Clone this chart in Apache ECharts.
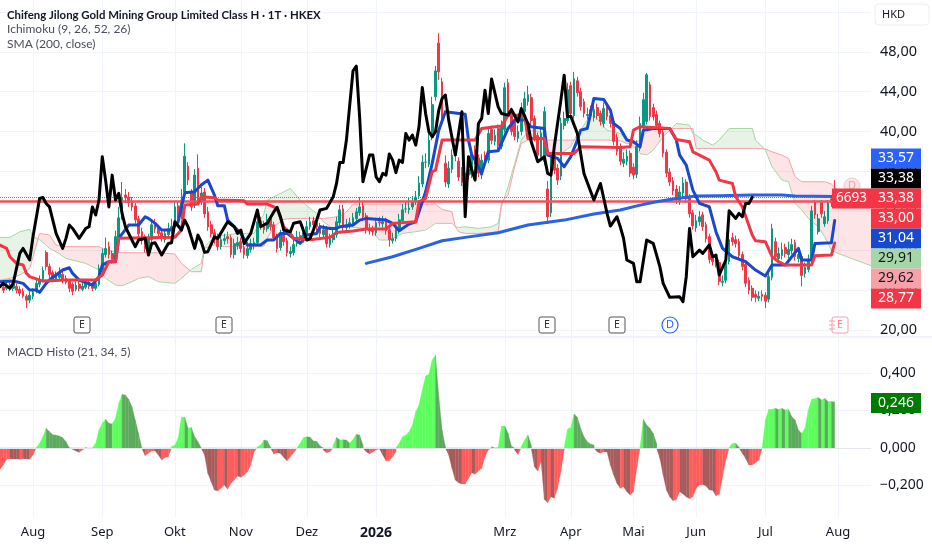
<!DOCTYPE html>
<html><head><meta charset="utf-8">
<style>html,body{margin:0;padding:0;background:#fff}#c{width:932px;height:550px}</style>
<script src="https://cdn.jsdelivr.net/npm/echarts@6/dist/echarts.min.js"></script>
</head><body><div id="c"></div>
<script>
const titleText='Chifeng Jilong Gold Mining Group Limited Class H · 1T · HKEX';
const monthBars=[10,31,53,73,93,114,153,173,192,211,232,254];
const monthNames=['Aug','Sep','Okt','Nov','Dez','2026','Mrz','Apr','Mai','Jun','Jul','Aug'];
const barCount=265;
const opens=[24.6,24.3,24.2,24.5,24.2,24.4,24.1,23.9,23.4,23.0,
23.4,23.9,24.6,25.0,27.8,26.4,25.8,25.1,25.3,25.6,
25.2,24.9,24.6,24.1,24.6,24.1,24.3,24.8,24.6,24.2,
24.6,26.0,27.6,28.4,27.7,27.0,29.3,31.4,33.6,33.4,
32.9,32.5,31.2,29.9,29.2,28.0,29.1,30.8,30.3,29.8,
29.1,29.6,30.1,30.4,32.5,31.5,33.9,36.5,33.8,32.6,
36.3,33.0,33.9,31.9,30.6,29.8,29.3,28.4,29.0,29.4,
29.3,27.6,28.5,28.9,28.3,27.5,28.1,28.6,28.8,31.0,
30.6,30.2,31.2,30.6,29.4,28.3,29.8,29.0,27.7,27.8,
28.7,29.5,29.1,29.7,30.4,31.0,30.8,30.5,29.6,30.2,
28.6,29.1,29.6,30.8,32.2,30.3,30.5,30.7,31.2,31.8,
32.5,31.5,30.2,30.1,29.8,30.9,30.7,31.0,30.1,29.0,
29.2,30.0,31.0,32.2,32.1,32.4,32.9,33.5,34.7,36.9,
36.7,39.4,43.5,48.9,45.0,36.8,34.7,36.2,37.7,37.0,
36.0,34.8,36.2,35.7,38.2,37.3,35.6,37.6,37.1,40.2,
39.0,40.3,38.5,40.2,44.9,42.1,41.0,39.3,40.0,42.0,
43.0,43.4,41.3,39.6,37.4,37.0,34.2,31.8,37.7,36.3,
35.5,40.6,41.1,44.6,41.6,45.1,44.0,43.0,41.6,42.2,
41.4,42.4,41.8,40.8,42.5,41.6,41.0,39.4,38.4,36.8,
37.0,37.8,36.4,35.7,38.3,40.5,41.0,44.7,42.4,41.7,
40.8,39.9,37.9,35.9,35.0,34.2,33.0,33.8,34.9,33.4,
31.8,30.3,30.9,31.6,30.6,29.4,27.3,27.1,26.8,24.8,
25.0,26.9,29.3,29.1,28.9,27.6,26.6,25.0,24.2,23.6,
23.2,23.6,23.5,23.1,25.3,28.9,27.2,27.5,28.3,27.6,
28.0,28.8,27.2,27.4,25.7,26.1,27.0,32.9,29.9,32.8,
30.7,31.0,33.2,33.8];
const closes=[24.3,24.0,24.5,24.2,24.6,24.0,23.7,23.4,23.0,23.5,
23.8,24.7,25.0,26.0,26.4,25.6,25.1,25.5,25.7,25.0,
24.8,24.2,23.9,24.5,24.2,24.4,24.7,24.4,24.2,24.7,
26.2,27.7,28.2,27.6,27.1,29.4,31.3,33.3,33.3,32.8,
32.4,31.1,29.7,29.0,28.2,29.2,30.6,30.2,29.7,29.2,
29.7,30.2,30.4,32.4,31.6,33.1,37.5,35.1,32.4,35.6,
33.1,33.8,31.7,30.4,29.7,29.1,28.4,29.1,29.2,29.2,
27.6,28.7,28.8,28.2,27.6,28.2,28.7,28.8,30.9,30.5,
30.1,31.1,30.4,29.3,28.2,29.6,28.9,27.8,27.9,28.6,
29.4,29.2,29.8,30.4,30.9,30.6,30.4,29.7,30.1,28.7,
29.2,29.7,30.9,32.1,30.4,30.6,30.8,31.3,31.9,32.4,
31.4,30.1,30.0,29.9,30.8,30.8,30.9,30.0,29.1,29.2,
30.1,31.1,32.1,32.2,32.3,32.9,33.4,34.8,36.9,36.9,
39.1,42.7,46.1,46.0,41.5,34.9,36.3,37.6,37.6,35.4,
34.9,35.8,35.6,37.7,37.1,35.8,37.1,36.9,39.8,39.1,
39.6,38.6,40.5,44.4,41.8,40.0,39.5,40.0,42.2,43.3,
43.7,41.1,39.4,37.6,39.8,42.0,31.4,37.5,36.1,35.1,
40.8,41.3,44.2,41.8,45.3,43.9,42.5,41.8,41.7,41.6,
42.2,41.6,41.0,42.3,41.5,40.8,39.0,38.0,37.0,37.2,
37.5,35.8,35.6,38.5,40.8,43.2,45.7,41.5,41.5,40.6,
39.8,37.8,35.8,34.9,34.0,33.1,33.9,34.8,33.2,31.7,
30.5,31.0,31.4,30.4,29.2,27.1,26.9,26.7,24.9,24.9,
27.0,29.1,28.9,28.7,27.5,26.4,24.7,24.0,23.3,23.3,
23.4,23.4,22.9,25.4,30.2,27.4,27.7,28.1,27.7,28.1,
28.6,27.4,27.6,25.5,26.3,27.1,32.0,31.6,31.2,31.7,
31.4,32.8,32.8,33.4];
const lows=[24.0,23.7,24.0,23.9,23.9,23.7,23.4,23.2,22.2,22.7,
23.1,23.7,24.3,24.8,26.0,25.2,24.8,24.9,25.1,24.7,
24.6,23.8,23.5,23.9,23.9,23.9,24.1,24.1,23.9,24.0,
24.4,25.8,27.3,27.2,26.7,26.8,29.0,31.1,32.8,32.4,
32.0,30.7,29.3,28.6,27.8,27.7,28.8,29.8,29.3,28.9,
28.8,29.3,29.7,30.1,31.2,31.2,33.5,34.6,32.0,32.3,
32.7,32.6,31.3,30.0,29.3,28.7,28.0,28.1,28.6,28.7,
27.3,27.2,28.1,27.8,27.2,27.2,27.8,28.1,28.5,30.1,
29.7,29.9,30.0,29.0,27.8,28.0,28.5,27.4,27.3,27.5,
28.4,28.8,28.8,29.4,30.1,30.2,30.0,29.3,29.3,28.3,
28.3,28.8,29.3,30.5,30.0,30.0,30.2,30.4,30.9,31.5,
31.0,29.7,29.6,29.5,29.5,30.4,30.3,29.6,28.4,28.7,
28.9,29.7,30.7,31.8,31.7,32.1,32.6,33.2,34.4,36.3,
36.4,39.1,43.1,45.2,41.0,34.4,34.3,35.8,37.0,35.0,
34.5,34.4,35.2,35.3,36.7,35.4,35.2,36.4,36.8,38.7,
38.6,38.2,38.2,39.9,41.4,39.6,39.1,38.9,39.6,41.7,
42.6,40.7,39.0,37.2,37.1,36.6,30.7,31.4,35.7,34.6,
35.1,40.2,40.8,41.4,41.3,43.5,42.1,41.4,41.2,41.2,
41.0,41.2,40.6,40.4,41.1,40.4,38.6,37.6,36.6,36.4,
36.6,35.4,35.2,35.3,38.0,40.2,40.7,41.1,41.1,40.2,
39.4,37.4,35.4,34.5,33.6,32.7,32.6,33.4,32.8,31.3,
30.1,29.9,30.5,30.0,28.8,26.7,26.5,26.3,24.5,24.4,
24.7,26.6,28.5,28.3,27.1,26.0,24.3,23.6,22.9,22.8,
22.9,22.9,22.2,22.8,25.0,27.0,26.8,27.1,27.3,27.2,
27.6,27.0,26.8,24.4,25.3,25.8,26.7,31.2,29.6,31.3,
30.4,30.7,32.4,33.1];
const highs=[25.0,24.6,24.9,24.8,25.0,24.7,24.4,24.2,23.6,23.9,
24.2,25.1,25.5,26.4,28.0,26.7,26.0,25.9,26.3,25.9,
25.5,25.1,24.8,24.9,24.9,24.8,25.0,25.1,24.8,25.2,
26.6,28.2,29.3,28.9,28.0,30.0,32.4,34.9,34.2,33.9,
33.4,32.8,31.5,30.3,29.6,29.7,31.1,31.2,30.6,30.1,
30.1,30.8,31.2,33.0,32.9,34.2,38.8,36.9,34.2,36.2,
37.7,34.4,34.3,32.4,31.0,30.2,29.7,29.8,29.7,29.9,
29.6,29.2,29.4,29.3,28.7,28.8,29.2,29.3,31.4,31.4,
31.0,31.7,31.6,30.9,29.7,30.1,30.2,29.3,28.4,29.1,
30.0,29.9,30.4,31.0,31.4,31.4,31.1,30.8,30.6,30.5,
29.7,30.2,31.4,32.6,32.6,31.2,31.3,31.8,32.3,33.4,
32.9,31.8,30.7,30.5,31.3,31.4,31.5,31.3,30.4,29.8,
30.6,31.7,32.7,32.9,33.3,33.5,34.0,35.5,37.6,37.8,
39.8,43.5,46.6,49.9,45.4,37.6,37.0,38.2,38.4,37.4,
36.4,36.4,36.6,38.3,38.6,37.7,37.7,38.0,40.4,40.6,
40.2,40.7,41.1,44.9,45.3,42.4,41.3,40.6,42.9,44.0,
44.6,43.8,41.6,39.9,40.3,42.5,35.0,37.9,38.2,36.7,
41.4,42.0,44.9,45.0,46.0,45.5,44.4,43.3,42.4,42.6,
42.8,42.8,42.1,42.9,42.9,42.0,41.3,39.8,38.8,37.9,
38.2,38.1,36.8,39.1,41.5,43.9,45.9,45.0,42.8,42.1,
41.1,40.2,38.2,36.3,35.4,34.6,34.5,35.4,35.2,33.7,
32.1,31.6,32.0,31.9,30.9,29.7,27.7,27.5,27.1,25.5,
27.6,29.7,29.8,29.5,29.2,27.9,26.9,25.3,24.5,24.0,
23.9,24.0,23.8,26.1,30.7,29.3,28.3,28.8,28.7,28.9,
29.2,29.1,28.2,27.7,26.8,27.6,32.5,33.1,31.7,33.1,
32.0,33.1,33.5,35.1];
const chikouBars=[0,1,3,4,6,7,9,10,12,13,14,15,16,17,19,20,21,22,24,26,27,28,29,30,31,32,33,34,35,36,37,38,40,41,42,44,45,46,47,49,51,52,53,55,56,57,59,60,61,62,63,65,66,69,71,72,73,74,76,78,79,81,83,84,85,86,88,89,91,93,94,95,97,99,101,102,103,104,105,106,107,108,109,110,112,113,114,115,116,117,118,119,120,121,122,123,124,125,126,127,128,129,130,131,132,133,134,135,136,138,139,140,141,142,143,144,145,146,147,148,149,151,152,154,155,157,158,160,161,163,165,166,167,168,170,171,172,173,175,177,180,182,184,185,187,188,189,190,192,193,194,196,198,200,201,203,206,207,208,209,210,212,213,215,216,217,218,220,221,223,224,225,226,227,228];
const chikouVals=[24.36,24.7,24.2,24.7,27.72,28.22,27.05,29.4,33.25,33.35,32.75,32.4,31.07,29.73,28.22,29.23,30.57,30.23,29.23,30.23,30.4,32.4,31.58,33.09,37.45,35.1,32.4,35.6,33.09,33.76,31.74,30.4,29.06,28.39,29.06,29.23,27.55,28.72,28.79,27.55,28.72,28.79,30.9,30.07,31.07,30.4,28.22,29.56,28.89,27.82,27.88,29.39,29.23,30.9,30.4,29.73,30.07,28.72,29.73,32.08,30.4,30.76,31.91,32.35,31.41,30.07,29.9,30.76,30.9,29.06,29.23,30.07,32.08,32.25,33.42,34.76,36.88,36.88,39.13,42.65,46.1,46.58,41.47,34.93,37.62,37.62,35.43,34.93,35.77,35.6,37.72,37.11,35.84,37.11,36.88,39.8,39.13,39.63,38.62,40.47,44.43,41.81,39.97,39.46,39.97,42.15,43.32,43.66,41.14,37.62,39.8,41.98,31.41,37.45,36.11,35.1,40.8,41.31,44.16,41.81,45.27,42.48,41.81,41.64,42.21,40.97,42.31,40.8,38.96,36.95,37.45,35.77,35.6,38.45,43.15,45.67,41.47,41.54,39.8,35.77,33.09,34.76,31.74,30.47,31.41,30.4,29.23,27.05,26.71,24.86,24.86,29.06,28.72,26.38,24.7,23.29,23.35,22.85,25.37,30.23,27.38,28.05,27.72,28.56,27.38,27.55,25.54,27.05,32.01,31.24,31.74,31.41,32.75,32.75,33.36];
const tenkanBars=[0,3,5,7,9,11,12,14,15,17,19,21,22,24,28,30,31,33,35,36,39,42,44,45,47,49,52,54,56,59,61,63,65,66,68,69,72,73,75,79,81,83,85,87,89,91,93,96,97,100,102,103,107,109,111,117,119,121,122,124,126,129,131,133,135,141,142,143,144,146,148,151,154,156,159,161,165,166,169,171,173,175,176,178,180,183,185,186,188,190,192,194,195,198,203,205,206,208,210,212,215,217,219,222,226,229,232,234,238,240,242,243,246,247,252,253];
const tenkanVals=[24.86,24.93,24.86,24.7,24.03,24.03,23.79,24.7,25.03,25.54,26.04,26.27,25.7,25.03,24.53,25.37,26.54,26.88,26.88,29.23,30.57,30.57,31.41,31.24,30.74,30.07,30.07,30.9,33.82,33.92,34.6,35.1,33.59,32.52,32.52,31.07,30.07,29.73,28.56,28.56,29.06,29.06,29.73,29.73,29.23,28.72,29.56,29.73,30.4,30.23,30.23,30.4,30.57,31.07,31.24,31.07,30.74,30.0,30.23,30.67,30.9,33.92,36.78,40.13,41.98,41.74,39.13,37.62,37.11,35.77,37.95,38.05,40.3,41.14,41.14,40.47,40.3,37.62,37.28,36.44,37.45,39.13,40.13,40.3,43.32,43.22,42.15,40.8,40.3,39.13,38.96,38.45,40.13,40.3,40.3,39.13,37.62,36.61,34.09,32.75,32.41,29.9,28.22,27.38,26.88,26.04,25.44,26.54,26.54,27.38,28.22,27.05,27.05,28.72,28.79,31.04];
const kijunBars=[0,2,3,5,7,8,9,13,20,29,31,33,35,36,53,55,56,60,61,65,66,74,75,81,84,86,88,89,94,100,102,107,111,117,119,126,127,129,131,132,134,144,146,152,154,159,160,165,166,174,176,188,191,192,194,203,205,209,210,212,215,217,218,222,223,225,228,229,232,234,236,238,246,247,252,253];
const kijunVals=[28.56,28.22,27.38,26.71,26.54,25.7,25.37,24.93,25.03,25.03,25.54,26.88,26.88,29.23,29.33,30.07,32.58,32.68,33.42,33.32,33.09,33.02,32.68,32.68,32.25,30.4,29.73,29.23,29.1,29.33,29.83,29.97,30.17,30.17,30.74,30.9,32.92,33.25,35.94,36.11,39.13,39.13,40.3,40.54,41.64,41.64,39.29,39.29,37.78,37.78,38.45,38.39,38.45,40.13,40.47,40.3,39.19,38.96,37.95,37.62,37.11,35.94,35.1,34.76,33.42,32.41,29.56,28.99,28.89,27.38,26.88,26.54,26.54,27.48,27.55,28.77];
const smaBars=[111,119,127,134,141,151,160,171,180,188,194,199,204,211,218,228,237,241,253];
const smaVals=[26.71,27.38,28.22,28.99,29.33,29.8,30.57,31.07,31.68,32.08,32.58,32.92,33.19,33.49,33.52,33.59,33.59,33.5,33.45];
const cloudBars=[0,3,6,9,10,12,15,17,20,26,30,32,35,37,40,42,45,48,53,55,58,61,62,65,68,72,77,80,81,83,86,88,91,94,96,98,101,104,106,107,112,115,118,122,126,129,132,134,137,138,139,141,145,149,151,152,154,156,158,160,162,165,166,170,173,175,176,178,180,184,188,190,192,194,196,198,201,203,205,209,210,211,213,216,218,221,228,229,232,234,237,239,241,243,245,248,250,252,254,258,264];
const spanA=[29.33,29.33,29.9,30.13,29.39,29.13,28.22,27.88,27.21,26.71,26.04,25.2,24.53,24.46,24.86,25.2,25.37,24.86,24.7,25.2,26.11,26.71,28.39,29.39,29.56,29.73,29.73,31.74,33.09,33.42,33.92,34.26,33.09,32.25,31.74,30.9,30.23,30.33,30.4,30.33,30.23,29.06,29.06,29.73,29.9,30.07,30.74,30.74,30.74,30.4,30.33,30.4,30.23,30.4,30.74,32.41,34.43,36.78,39.13,39.97,40.13,39.8,37.78,37.78,38.45,39.8,40.13,41.14,41.64,40.13,39.8,39.13,38.45,37.78,37.62,38.12,39.46,40.13,40.8,40.63,39.8,39.63,39.13,38.62,39.13,40.3,40.3,39.13,38.12,36.44,35.1,34.93,32.75,32.08,31.24,30.4,29.39,28.05,27.72,27.21,26.48];
const spanB=[25.03,25.2,25.54,26.21,27.38,29.73,29.56,28.56,28.39,28.39,28.39,28.05,27.88,27.78,27.78,27.78,27.78,27.78,27.65,26.71,25.87,25.87,28.22,28.56,28.39,28.39,28.39,28.46,29.23,30.4,31.14,31.24,31.24,31.24,31.24,31.24,31.34,31.58,32.25,32.68,32.68,32.68,32.68,32.68,32.68,32.68,32.68,32.15,31.91,30.4,29.9,29.73,29.73,29.83,29.9,32.92,33.59,36.44,38.79,39.13,39.13,39.13,39.13,39.13,39.13,39.13,39.13,39.13,39.13,39.13,39.06,38.79,38.79,39.13,39.97,40.3,40.3,40.3,40.3,40.3,40.3,38.29,38.29,38.29,38.29,38.29,38.29,38.29,38.22,37.95,37.62,37.28,35.43,34.93,34.93,34.93,34.93,34.7,34.1,33.4,33.09];
const macdVals=[-.114,-.09,-.06,-.057,-.058,-.059,-.06,-.057,-.058,-.06,-.037,.002,.025,.06,.105,.087,.071,.068,.064,.055,.034,.002,-.007,-.016,-.023,-.011,.004,-.005,-.002,.025,.096,.132,.153,.132,.128,.158,.238,.286,.283,.26,.22,.149,.078,-.002,-.041,-.028,-.016,-.015,-.037,-.064,-.05,-.046,.007,.016,.052,.164,.164,.105,.11,.06,.034,-.002,-.037,-.135,-.18,-.224,-.229,-.215,-.197,-.219,-.188,-.171,-.149,-.156,-.144,-.126,-.091,-.02,.007,.016,.043,.039,.004,-.032,-.025,-.028,-.05,-.068,-.046,-.025,-.002,.025,.057,.06,.057,.037,.036,.011,-.011,-.025,-.02,.016,.057,.043,.044,.043,.025,.046,.073,.069,.016,-.02,-.032,-.021,-.011,-.004,-.037,-.068,-.068,-.046,-.02,.025,.06,.068,.087,.123,.194,.229,.309,.384,.393,.469,.496,.274,.096,.007,-.037,-.108,-.171,-.185,-.192,-.192,-.162,-.132,-.14,-.123,-.108,-.046,-.011,.007,-.002,.004,.117,.117,.078,.011,-.011,-.034,.007,.043,.069,.016,-.1,-.123,-.073,-.274,-.292,-.26,-.268,-.215,-.126,-.011,.1,.11,.181,.164,.105,.06,.034,.021,.016,-.02,-.028,-.02,-.021,-.091,-.144,-.188,-.215,-.206,-.233,-.251,-.233,-.108,.005,.153,.123,.105,.078,.025,-.055,-.144,-.224,-.26,-.281,-.274,-.233,-.245,-.26,-.27,-.26,-.215,-.197,-.194,-.203,-.224,-.225,-.254,-.247,-.153,-.064,.001,.025,.025,.004,-.028,-.055,-.091,-.09,-.078,-.064,-.002,.149,.206,.206,.212,.206,.212,.203,.206,.167,.149,.096,.078,.105,.203,.26,.263,.27,.256,.265,.247,.248,.246];
const hLineVals=[33.00];
const dotLineVals=[33.38];
const tagTexts=['33,57','33,38','33,38','33,00','31,04','29,91','29,62','28,77'];
const tagFills=['#2962FF','#000000','#F23645','#F23645','#1848CC','#A5D6A7','#F7A1A8','#F23645'];
const tagInks=['#fff','#fff','#fff','#fff','#fff','#131722','#131722','#fff'];
const earningsBars=[82,224,547,617];

const FONT='"Noto Sans"',LABELFONT='Lato';
const GRID='#F0F3FA',INK='#131722',SUB='#4A4E5A';
const categories=Array.from({length:barCount},(_,i)=>{const k=monthBars.indexOf(i);return k<0?'':monthNames[k];});
const isMonth=(i)=>monthBars.indexOf(i)>=0;
const zip=(a,b)=>a.map((x,i)=>[x,b[i]]);
const candle=opens.map((o,i)=>[o,closes[i],lows[i],highs[i]]);
const plotW=871;

function cloudItem(p,api){
  const i=p.dataIndex; if(i>=cloudBars.length-1) return null;
  const x0=cloudBars[i],x1=cloudBars[i+1],a0=spanA[i],a1=spanA[i+1],b0=spanB[i],b1=spanB[i+1];
  const d0=a0-b0,d1=a1-b1;
  const polys=[];
  const add=(pts,up)=>polys.push({type:'polygon',shape:{points:pts.map(q=>api.coord(q))},style:{fill:up?'rgba(67,160,71,0.13)':'rgba(242,54,69,0.13)'}});
  if(d0*d1<0){
    const t=d0/(d0-d1),xm=x0+t*(x1-x0),ym=a0+t*(a1-a0);
    add([[x0,a0],[xm,ym],[x0,b0]],d0>0);
    add([[xm,ym],[x1,a1],[x1,b1]],d1>0);
  } else add([[x0,a0],[x1,a1],[x1,b1],[x0,b0]],(d0+d1)>0);
  return {type:'group',children:polys};
}
function macdItem(p,api){
  const i=p.dataIndex; if(i>=macdVals.length-1) return null;
  const v0=macdVals[i],v1=macdVals[i+1];
  const falling=v1<v0;
  const col=(v)=>v>=0?(falling?'#5CAB5C':'#5CFF5C'):(falling?'#A85C5C':'#FF5C5C');
  const polys=[];
  const add=(pts,c)=>polys.push({type:'polygon',shape:{points:pts.map(q=>api.coord(q))},style:{fill:c,stroke:c,lineWidth:0.3}});
  if(v0*v1<0){
    const xm=i+v0/(v0-v1);
    add([[i,0],[i,v0],[xm,0]],col(v0));
    add([[xm,0],[i+1,v1],[i+1,0]],col(v1));
  } else add([[i,0],[i,v0],[i+1,v1],[i+1,0]],col(v0+v1));
  return {type:'group',children:polys};
}
const txt=(x,y,t,o,z)=>({type:'text',x,y,z:z||50,style:Object.assign({text:t,font:'12px '+LABELFONT,fill:SUB,verticalAlign:'middle',align:'left'},o||{})});
const graphics=[];
graphics.push({type:'rect',shape:{x:0,y:336,width:932,height:2},style:{fill:'#F0F3FA'},z:5});
graphics.push(txt(7,15,titleText,{font:'bold 11.4px '+LABELFONT,fill:INK}));
graphics.push(txt(7,29,'Ichimoku (9, 26, 52, 26)'));
graphics.push(txt(7,44,'SMA (200, close)'));
graphics.push(txt(7,352,'MACD Histo (21, 34, 5)'));
graphics.push({type:'rect',z:50,shape:{x:875,y:4,width:54,height:21,r:4},style:{fill:'#fff',stroke:'#ECEEF2',lineWidth:1}});
graphics.push(txt(882,15,'HKD',{font:'11px '+FONT,fill:INK},51));
tagTexts.forEach((t,i)=>{
  const y=148.5+i*20;
  graphics.push({type:'rect',z:40,shape:{x:871,y,width:50,height:20},style:{fill:tagFills[i]}});
  graphics.push(txt(896,y+10,t,{font:'14px '+FONT,fill:tagInks[i],align:'center'},41));
});
graphics.push({type:'circle',z:30,shape:{cx:852,cy:186,r:8},style:{fill:'#FCE4E6',stroke:'#F9C8CC',lineWidth:1}});
graphics.push(txt(852,186,'D',{font:'11px '+FONT,fill:'#F2A0A8',align:'center'},31));
graphics.push({type:'rect',z:42,shape:{x:832,y:188.5,width:39,height:20},style:{fill:'#F23645'}});
graphics.push(txt(851.5,198.5,'6693',{font:'13.5px '+FONT,fill:'#fff',align:'center'},43));
graphics.push({type:'rect',z:42,shape:{x:871,y:393,width:50,height:20},style:{fill:'#007A00'}});
graphics.push(txt(896,403,'0,246',{font:'14px '+FONT,fill:'#fff',align:'center'},43));
earningsBars.forEach(x=>{
  graphics.push({type:'rect',z:20,shape:{x:x-8,y:317,width:16,height:16,r:2},style:{fill:'#fff',stroke:'#555',lineWidth:1}});
  graphics.push(txt(x,325,'E',{font:'10.5px '+FONT,fill:'#333',align:'center'},21));
});
graphics.push({type:'circle',z:20,shape:{cx:670,cy:325,r:8},style:{fill:'#fff',stroke:'#2962FF',lineWidth:1.2}});
graphics.push(txt(670,325,'D',{font:'11px '+FONT,fill:'#2962FF',align:'center'},21));
graphics.push({type:'rect',z:20,shape:{x:832,y:317,width:16,height:16,r:2},style:{fill:'#fff',stroke:'#F4A0A8',lineWidth:1}});
graphics.push(txt(840,325,'E',{font:'10.5px '+FONT,fill:'#F08A94',align:'center'},21));
[321,325,329].forEach(y=>graphics.push({type:'line',z:21,shape:{x1:829,y1:y,x2:835,y2:y},style:{stroke:'#F4A0A8',lineWidth:1}}));

const lineS=(name,bars,vals,color,width,z)=>({name,type:'line',xAxisIndex:0,yAxisIndex:0,data:zip(bars,vals),showSymbol:false,symbol:'none',silent:true,z,animation:false,lineStyle:{color,width,join:'round',cap:'round'}});
const option={
  animation:false,backgroundColor:'#fff',
  textStyle:{fontFamily:FONT},
  graphic:graphics,
  grid:[
    {left:0,width:plotW,top:12.3,height:317.7},
    {left:0,width:plotW,top:335.5,height:187.5},
    {left:0,width:plotW,top:0,height:517}
  ],
  xAxis:[0,1].map(g=>({gridIndex:g,type:'category',boundaryGap:false,data:categories,show:false})).concat([{
    gridIndex:2,type:'category',boundaryGap:false,data:categories,
    axisLine:{show:false},axisTick:{show:false},
    splitLine:{show:true,interval:(i)=>isMonth(i),lineStyle:{color:GRID,width:1}},
    axisLabel:{interval:(i)=>isMonth(i),margin:9,fontSize:13,color:INK,fontFamily:FONT,hideOverlap:false,
      formatter:(v)=>v==='2026'?'{b|2026}':v,rich:{b:{fontWeight:'bold',fontSize:14,color:INK,fontFamily:FONT}}}
  }]),
  yAxis:[
    {gridIndex:0,type:'value',position:'right',min:20,max:52,interval:4,
      axisLine:{show:false},axisTick:{show:false},splitLine:{lineStyle:{color:GRID}},
      axisLabel:{margin:9,fontSize:14.5,color:INK,fontFamily:FONT,showMaxLabel:false,formatter:(v)=>v.toFixed(2).replace('.',',')}},
    {gridIndex:1,type:'value',position:'right',min:-0.4,max:0.6,interval:0.2,
      axisLine:{show:false},axisTick:{show:false},splitLine:{showMinLine:false,showMaxLine:false,lineStyle:{color:GRID}},
      axisLabel:{margin:9,fontSize:14,color:INK,fontFamily:FONT,showMaxLabel:false,showMinLabel:false,formatter:(v)=>v.toFixed(3).replace('.',',').replace('-','−')}},
    {gridIndex:2,type:'value',show:false,min:0,max:1}
  ],
  series:[
    {type:'custom',name:'cloud',xAxisIndex:0,yAxisIndex:0,data:cloudBars.map((b,i)=>[b,spanA[i],spanB[i]]),renderItem:cloudItem,silent:true,z:2,encode:{x:0,y:[1,2]}},
    lineS('Span A',cloudBars,spanA,'#A5D6A7',1,3),
    lineS('Span B',cloudBars,spanB,'#F7A1A8',1,3),
    {type:'candlestick',name:'price',xAxisIndex:0,yAxisIndex:0,data:candle,barWidth:2.2,silent:true,z:4,
      itemStyle:{color:'#089981',color0:'#F23645',borderColor:'#089981',borderColor0:'#F23645',borderWidth:1}},
    {type:'line',name:'levels',xAxisIndex:0,yAxisIndex:0,data:[],silent:true,z:5,
      markLine:{silent:true,symbol:'none',label:{show:false},animation:false,data:[
        {yAxis:hLineVals[0],lineStyle:{color:'#F2505C',width:2.5,type:'solid'}},
        {yAxis:dotLineVals[0],lineStyle:{color:'#F2505C',width:1,type:'dotted'}}
      ]}},
    lineS('SMA',smaBars,smaVals,'#2962E8',3,6),
    lineS('Tenkan',tenkanBars,tenkanVals,'#1848CC',3,7),
    lineS('Kijun',kijunBars,kijunVals,'#F23645',3,8),
    lineS('Chikou',chikouBars,chikouVals,'#000000',3,9),
    {type:'custom',name:'macd',xAxisIndex:1,yAxisIndex:1,data:macdVals.map((v,i)=>[i,v]),renderItem:macdItem,silent:true,z:3,encode:{x:0,y:1}},
    {type:'line',name:'zero',xAxisIndex:1,yAxisIndex:1,data:[],silent:true,z:2,markLine:{silent:true,symbol:'none',label:{show:false},animation:false,data:[{yAxis:0,lineStyle:{color:'#E4E7EE',width:1,type:'solid'}}]}}
  ]
};
const chart=echarts.init(document.getElementById('c'),null,{renderer:'canvas'});
chart.setOption(option);
</script></body></html>
